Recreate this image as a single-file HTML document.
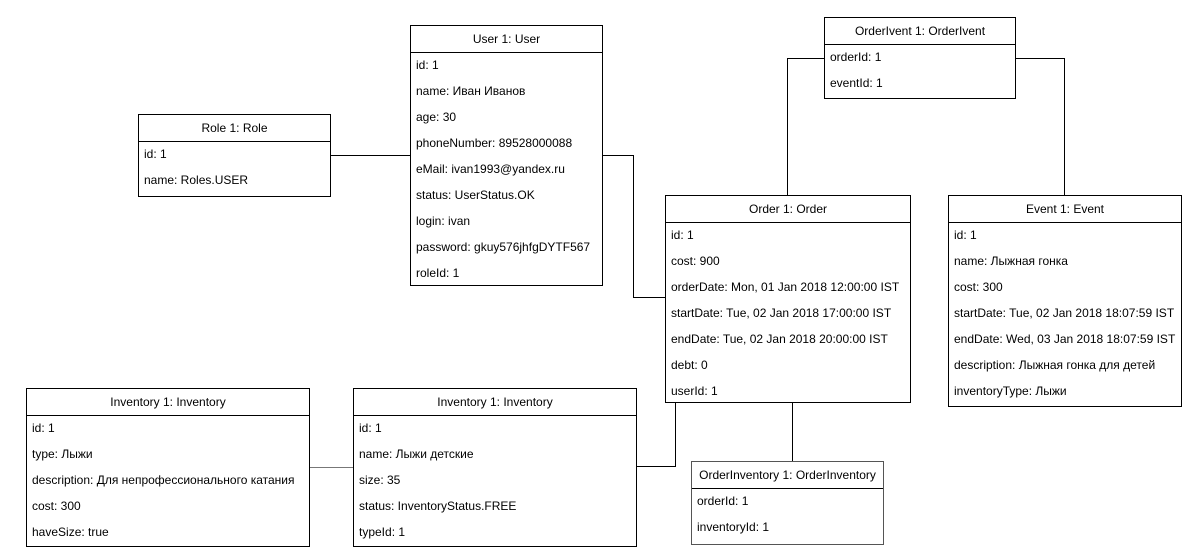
<!DOCTYPE html>
<html><head><meta charset="utf-8"><style>
body{margin:0;width:1194px;height:558px;background:#fff;position:relative;overflow:hidden;font-family:"Liberation Sans",Arial,sans-serif;font-size:12px;color:#000}
.b{position:absolute;border:1px solid #000;box-sizing:border-box;background:#fff}
.h{height:26px;line-height:26px;text-align:center;border-bottom:1px solid #000}
.r{height:26px;line-height:24px;padding-left:5px;white-space:nowrap}
.l{position:absolute;background:#000}
</style></head><body>
<!-- lines -->
<div class="l" style="left:330px;top:155px;width:80px;height:1px"></div>
<div class="l" style="left:602px;top:155px;width:32px;height:1px"></div>
<div class="l" style="left:633px;top:155px;width:1px;height:143px"></div>
<div class="l" style="left:633px;top:297px;width:32px;height:1px"></div>
<div class="l" style="left:787px;top:58px;width:37px;height:1px"></div>
<div class="l" style="left:787px;top:58px;width:1px;height:137px"></div>
<div class="l" style="left:1015px;top:58px;width:50px;height:1px"></div>
<div class="l" style="left:1064px;top:58px;width:1px;height:137px"></div>
<div class="l" style="left:675px;top:402px;width:1px;height:65px"></div>
<div class="l" style="left:636px;top:466px;width:40px;height:1px"></div>
<div class="l" style="left:309px;top:467px;width:44px;height:1px;background:#777"></div>
<div class="l" style="left:792px;top:402px;width:1px;height:59px"></div>

<div class="b" style="left:138px;top:114px;width:193px;height:83px">
<div class="h">Role 1: Role</div>
<div class="r">id: 1</div><div class="r">name: Roles.USER</div></div>

<div class="b" style="left:410px;top:25px;width:193px;height:261px">
<div class="h">User 1: User</div>
<div class="r">id: 1</div><div class="r">name: Иван Иванов</div><div class="r">age: 30</div>
<div class="r">phoneNumber: 89528000088</div><div class="r">eMail: ivan1993@yandex.ru</div>
<div class="r">status: UserStatus.OK</div><div class="r">login: ivan</div>
<div class="r">password: gkuy576jhfgDYTF567</div><div class="r">roleId: 1</div></div>

<div class="b" style="left:824px;top:17px;width:192px;height:82px">
<div class="h">OrderIvent 1: OrderIvent</div>
<div class="r">orderId: 1</div><div class="r">eventId: 1</div></div>

<div class="b" style="left:665px;top:195px;width:246px;height:208px">
<div class="h">Order 1: Order</div>
<div class="r">id: 1</div><div class="r">cost: 900</div>
<div class="r">orderDate: Mon, 01 Jan 2018 12:00:00 IST</div>
<div class="r">startDate: Tue, 02 Jan 2018 17:00:00 IST</div>
<div class="r">endDate: Tue, 02 Jan 2018 20:00:00 IST</div>
<div class="r">debt: 0</div><div class="r">userId: 1</div></div>

<div class="b" style="left:948px;top:195px;width:234px;height:212px">
<div class="h">Event 1: Event</div>
<div class="r">id: 1</div><div class="r">name: Лыжная гонка</div><div class="r">cost: 300</div>
<div class="r">startDate: Tue, 02 Jan 2018 18:07:59 IST</div>
<div class="r">endDate: Wed, 03 Jan 2018 18:07:59 IST</div>
<div class="r">description: Лыжная гонка для детей</div>
<div class="r">inventoryType: Лыжи</div></div>

<div class="b" style="left:26px;top:388px;width:284px;height:159px">
<div class="h">Inventory 1: Inventory</div>
<div class="r">id: 1</div><div class="r">type: Лыжи</div>
<div class="r">description: Для непрофессионального катания</div>
<div class="r">cost: 300</div><div class="r">haveSize: true</div></div>

<div class="b" style="left:353px;top:388px;width:284px;height:159px">
<div class="h">Inventory 1: Inventory</div>
<div class="r">id: 1</div><div class="r">name: Лыжи детские</div>
<div class="r">size: 35</div><div class="r">status: InventoryStatus.FREE</div>
<div class="r">typeId: 1</div></div>

<div class="b" style="left:691px;top:461px;width:193px;height:84px;border-color:#555">
<div class="h">OrderInventory 1: OrderInventory</div>
<div class="r">orderId: 1</div><div class="r">inventoryId: 1</div></div>
</body></html>
